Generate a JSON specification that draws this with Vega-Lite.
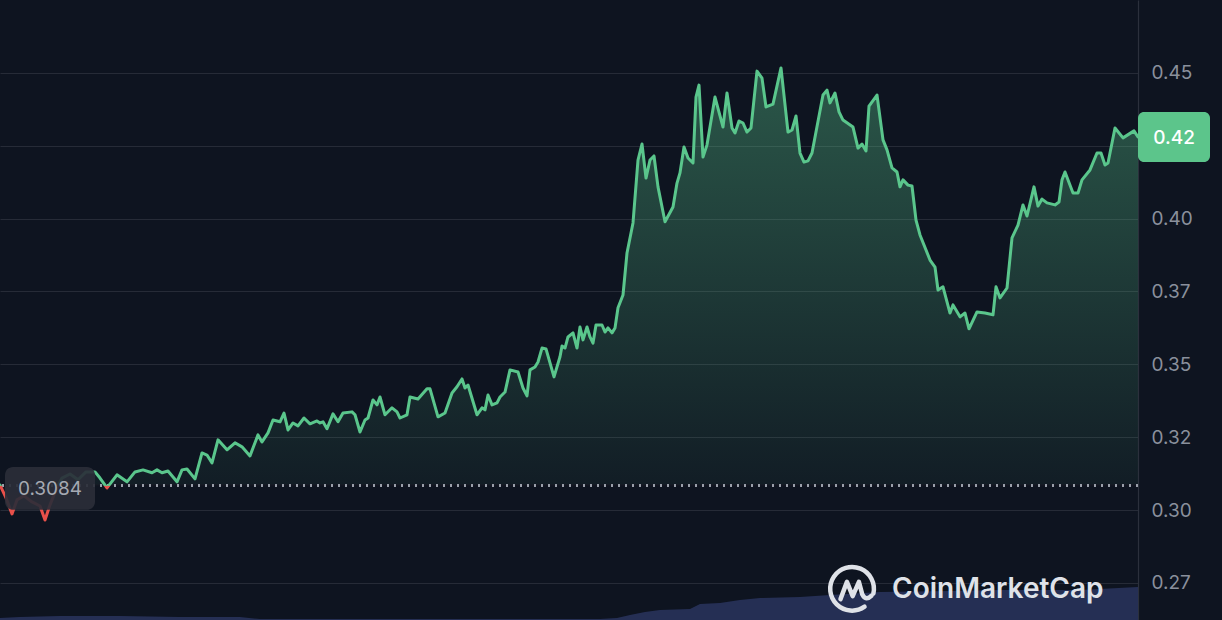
{
  "$schema": "https://vega.github.io/schema/vega-lite/v6.json",
  "width": 1138,
  "height": 620,
  "autosize": {"type": "none"},
  "padding": {"left": 0, "top": 0, "right": 84, "bottom": 0},
  "background": "#0e1420",
  "config": {"view": {"stroke": null}, "font": "Inter"},
  "datasets": {
    "price": [
      {"t":0,"price":0.3086},{"t":6,"price":0.3042},{"t":12,"price":0.2987},{"t":17,"price":0.3035},{"t":24,"price":0.3049},{"t":32,"price":0.3028},{"t":40,"price":0.3014},{"t":45,"price":0.2966},{"t":50,"price":0.3018},{"t":56,"price":0.3069},{"t":62,"price":0.3110},{"t":70,"price":0.3124},{"t":78,"price":0.3104},{"t":86,"price":0.3131},{"t":95,"price":0.3131},
      {"t":100,"price":0.3110},{"t":107,"price":0.3076},{"t":117,"price":0.3121},{"t":127,"price":0.3097},{"t":135,"price":0.3131},{"t":143,"price":0.3138},{"t":152,"price":0.3128},{"t":157,"price":0.3138},{"t":162,"price":0.3128},{"t":168,"price":0.3134},{"t":177,"price":0.3097},{"t":182,"price":0.3138},{"t":187,"price":0.3141},{"t":195,"price":0.3107},
      {"t":202,"price":0.3196},{"t":207,"price":0.3189},{"t":212,"price":0.3162},{"t":218,"price":0.3241},{"t":227,"price":0.3207},{"t":235,"price":0.3231},{"t":242,"price":0.3217},{"t":250,"price":0.3186},{"t":258,"price":0.3258},{"t":262,"price":0.3234},{"t":268,"price":0.3265},{"t":273,"price":0.3309},{"t":280,"price":0.3303},{"t":284,"price":0.3333},{"t":288,"price":0.3275},{"t":293,"price":0.3299},{"t":298,"price":0.3289},
      {"t":304,"price":0.3316},{"t":310,"price":0.3296},{"t":317,"price":0.3306},{"t":320,"price":0.3299},{"t":323,"price":0.3303},{"t":327,"price":0.3279},{"t":333,"price":0.3330},{"t":338,"price":0.3303},{"t":343,"price":0.3333},{"t":352,"price":0.3337},{"t":355,"price":0.3327},{"t":360,"price":0.3268},{"t":365,"price":0.3309},{"t":368,"price":0.3316},{"t":373,"price":0.3378},{"t":377,"price":0.3361},{"t":380,"price":0.3388},{"t":385,"price":0.3327},{"t":392,"price":0.3351},{"t":397,"price":0.3337},
      {"t":400,"price":0.3316},{"t":407,"price":0.3327},{"t":410,"price":0.3388},{"t":418,"price":0.3381},{"t":427,"price":0.3416},{"t":430,"price":0.3416},{"t":438,"price":0.3320},{"t":445,"price":0.3333},{"t":452,"price":0.3402},{"t":457,"price":0.3423},{"t":462,"price":0.3450},{"t":465,"price":0.3419},{"t":468,"price":0.3429},{"t":477,"price":0.3327},{"t":482,"price":0.3351},{"t":485,"price":0.3344},{"t":488,"price":0.3395},{"t":492,"price":0.3361},{"t":497,"price":0.3368},
      {"t":500,"price":0.3388},{"t":505,"price":0.3405},{"t":510,"price":0.3481},{"t":518,"price":0.3474},{"t":523,"price":0.3419},{"t":527,"price":0.3392},{"t":530,"price":0.3481},{"t":535,"price":0.3491},{"t":538,"price":0.3508},{"t":542,"price":0.3556},{"t":546,"price":0.3553},{"t":554,"price":0.3457},{"t":560,"price":0.3526},{"t":562,"price":0.3563},{"t":565,"price":0.3556},{"t":568,"price":0.3594},{"t":573,"price":0.3608},{"t":577,"price":0.3556},{"t":580,"price":0.3628},{"t":583,"price":0.3584},{"t":587,"price":0.3628},{"t":590,"price":0.3594},{"t":593,"price":0.3573},{"t":596,"price":0.3635},
      {"t":602,"price":0.3635},{"t":605,"price":0.3611},{"t":608,"price":0.3625},{"t":612,"price":0.3608},{"t":615,"price":0.3625},{"t":618,"price":0.3694},{"t":623,"price":0.3738},{"t":627,"price":0.3882},{"t":633,"price":0.3985},{"t":638,"price":0.4201},{"t":642,"price":0.4256},{"t":646,"price":0.4139},{"t":650,"price":0.4201},{"t":654,"price":0.4215},{"t":658,"price":0.4109},{"t":665,"price":0.3989},{"t":673,"price":0.4040},{"t":677,"price":0.4122},{"t":680,"price":0.4157},{"t":684,"price":0.4246},{"t":688,"price":0.4208},{"t":693,"price":0.4191},{"t":696,"price":0.4417},{"t":699,"price":0.4458},
      {"t":703,"price":0.4211},{"t":707,"price":0.4253},{"t":715,"price":0.4417},{"t":723,"price":0.4314},{"t":727,"price":0.4431},{"t":732,"price":0.4311},{"t":735,"price":0.4294},{"t":739,"price":0.4335},{"t":743,"price":0.4328},{"t":747,"price":0.4297},{"t":751,"price":0.4311},{"t":757,"price":0.4506},{"t":762,"price":0.4482},{"t":766,"price":0.4383},{"t":773,"price":0.4393},{"t":781,"price":0.4517},{"t":788,"price":0.4297},{"t":792,"price":0.4304},{"t":796,"price":0.4352},
      {"t":800,"price":0.4225},{"t":804,"price":0.4194},{"t":808,"price":0.4198},{"t":812,"price":0.4225},{"t":823,"price":0.4424},{"t":827,"price":0.4441},{"t":830,"price":0.4397},{"t":835,"price":0.4431},{"t":839,"price":0.4366},{"t":843,"price":0.4338},{"t":853,"price":0.4314},{"t":858,"price":0.4242},{"t":862,"price":0.4256},{"t":866,"price":0.4232},{"t":869,"price":0.4386},{"t":877,"price":0.4424},{"t":883,"price":0.4270},{"t":887,"price":0.4236},{"t":892,"price":0.4174},{"t":897,"price":0.4160},
      {"t":900,"price":0.4109},{"t":903,"price":0.4133},{"t":908,"price":0.4115},{"t":912,"price":0.4112},{"t":916,"price":0.3995},{"t":920,"price":0.3944},{"t":930,"price":0.3858},{"t":935,"price":0.3834},{"t":938,"price":0.3755},{"t":943,"price":0.3766},{"t":950,"price":0.3676},{"t":953,"price":0.3704},{"t":960,"price":0.3663},{"t":965,"price":0.3676},{"t":969,"price":0.3622},{"t":977,"price":0.3680},{"t":985,"price":0.3676},{"t":993,"price":0.3670},{"t":996,"price":0.3766},
      {"t":1000,"price":0.3728},{"t":1007,"price":0.3762},{"t":1012,"price":0.3934},{"t":1018,"price":0.3978},{"t":1023,"price":0.4047},{"t":1027,"price":0.4009},{"t":1034,"price":0.4109},{"t":1038,"price":0.4043},{"t":1042,"price":0.4067},{"t":1047,"price":0.4054},{"t":1055,"price":0.4047},{"t":1059,"price":0.4057},{"t":1062,"price":0.4133},{"t":1065,"price":0.4160},{"t":1073,"price":0.4088},{"t":1078,"price":0.4088},{"t":1082,"price":0.4133},{"t":1090,"price":0.4167},{"t":1097,"price":0.4225},
      {"t":1101,"price":0.4225},{"t":1105,"price":0.4184},{"t":1108,"price":0.4191},{"t":1115,"price":0.4311},{"t":1123,"price":0.4277},{"t":1134,"price":0.4301},{"t":1138,"price":0.4280}
    ],
    "volume": [
      {"t":0,"vol":1.3},{"t":20,"vol":1.9},{"t":60,"vol":2.6},{"t":120,"vol":2.6},{"t":180,"vol":1.9},{"t":240,"vol":1.9},{"t":260,"vol":0.6},{"t":600,"vol":0.6},{"t":617,"vol":1.3},{"t":630,"vol":3.2},{"t":645,"vol":5.2},{"t":660,"vol":6.5},{"t":690,"vol":7.1},{"t":700,"vol":10.3},{"t":720,"vol":11.0},{"t":740,"vol":12.9},{"t":760,"vol":14.2},{"t":800,"vol":14.8},{"t":830,"vol":16.1},{"t":880,"vol":18.1},{"t":950,"vol":18.7},{"t":1000,"vol":19.4},{"t":1080,"vol":19.4},{"t":1138,"vol":21.3}
    ]
  },
  "layer": [
    {
      "data": {"name": "volume"},
      "mark": {"type": "area", "color": "#29345e", "opacity": 0.85},
      "encoding": {
        "x": {"field": "t", "type": "quantitative", "scale": {"domain": [0, 1138], "nice": false, "zero": false}, "axis": null},
        "y": {"field": "vol", "type": "quantitative", "scale": {"domain": [0, 400], "nice": false}, "axis": null}
      }
    },
    {
      "data": {"name": "price"},
      "layer": [
        {
          "mark": {
            "type": "area",
            "color": {"gradient": "linear", "x1": 0, "y1": 0, "x2": 0, "y2": 1,
              "stops": [
                {"offset": 0, "color": "rgba(90,198,140,0.38)"},
                {"offset": 0.92, "color": "rgba(90,198,140,0.05)"},
                {"offset": 0.924, "color": "rgba(232,80,74,0.04)"},
                {"offset": 1, "color": "rgba(232,80,74,0.08)"}
              ]}
          },
          "encoding": {
            "x": {"field": "t", "type": "quantitative", "scale": {"domain": [0, 1138], "nice": false, "zero": false}, "axis": null},
            "y": {"field": "price", "type": "quantitative",
              "scale": {"domain": [0.2623, 0.475], "nice": false, "zero": false},
              "axis": {"orient": "right", "title": null, "values": [0.275, 0.3, 0.325, 0.35, 0.375, 0.4, 0.425, 0.45],
                "labelExpr": "datum.value > 0.42 && datum.value < 0.43 ? '' : format(floor(datum.value*100+0.000001)/100, '.2f')",
                "grid": true, "gridColor": "#262b37", "gridWidth": 1.2,
                "domain": true, "domainColor": "#2b303c", "domainWidth": 1.2,
                "ticks": false, "labelPadding": 13, "labelFontSize": 19, "labelColor": "#8a909c", "labelFont": "Inter"}},
            "y2": {"datum": 0.3084}
          }
        },
        {
          "mark": {"type": "rule", "color": "#9ca1ab", "strokeDash": [2, 5], "strokeWidth": 1.6},
          "encoding": {"y": {"datum": 0.3084}}
        },
        {
          "mark": {
            "type": "line", "strokeWidth": 3, "strokeJoin": "round", "strokeCap": "round",
            "stroke": {"gradient": "linear", "x1": 0, "y1": 0, "x2": 0, "y2": 1,
              "stops": [
                {"offset": 0, "color": "#5ac68c"},
                {"offset": 0.9235, "color": "#5ac68c"},
                {"offset": 0.9245, "color": "#e8504a"},
                {"offset": 1, "color": "#e8504a"}
              ]}
          },
          "encoding": {
            "x": {"field": "t", "type": "quantitative"},
            "y": {"field": "price", "type": "quantitative"}
          }
        },
        {
          "data": {"values": [{"label": "0.3084"}]},
          "mark": {"type": "rect", "color": "#2a2e38", "opacity": 0.92, "cornerRadius": 8},
          "encoding": {
            "x": {"datum": 5}, "x2": {"datum": 95},
            "y": {"datum": 0.3148}, "y2": {"datum": 0.3001}
          }
        },
        {
          "data": {"values": [{"label": "0.3084"}]},
          "mark": {"type": "text", "color": "#a5a9b2", "fontSize": 19, "font": "Inter", "align": "center", "baseline": "middle"},
          "encoding": {
            "x": {"datum": 50}, "y": {"datum": 0.3073},
            "text": {"field": "label"}
          }
        },
        {
          "data": {"values": [{"label": "0.42"}]},
          "mark": {"type": "rect", "color": "#5cc58b", "cornerRadius": 6},
          "encoding": {
            "x": {"datum": 1138}, "x2": {"datum": 1210},
            "y": {"datum": 0.4366}, "y2": {"datum": 0.4194}
          }
        },
        {
          "data": {"values": [{"label": "0.42"}]},
          "mark": {"type": "text", "color": "#ffffff", "fontSize": 19, "fontWeight": 500, "font": "Inter", "align": "center", "baseline": "middle"},
          "encoding": {
            "x": {"datum": 1174}, "y": {"datum": 0.4277},
            "text": {"field": "label"}
          }
        },
        {
          "data": {"values": [{"label": "logo"}]},
          "mark": {"type": "point", "shape": "M0.93,0.2 A0.95,0.95 0 1 0 0.545,0.778 M-0.5,0.45 L-0.22,-0.3 L0.03,0.32 L0.3,-0.3 L0.45,0.25 Q0.6,0.55 0.85,0.3", "size": 2116, "filled": false, "stroke": "#dfe2e8", "strokeWidth": 4.5, "opacity": 1, "strokeCap": "round", "strokeJoin": "round"},
          "encoding": {"x": {"datum": 852}, "y": {"datum": 0.2730}}
        },
        {
          "data": {"values": [{"label": "CoinMarketCap"}]},
          "mark": {"type": "text", "color": "#dfe2e8", "fontSize": 28, "fontWeight": 600, "font": "Inter", "align": "left", "baseline": "alphabetic"},
          "encoding": {
            "x": {"datum": 892}, "y": {"datum": 0.2699},
            "text": {"field": "label"}
          }
        }
      ]
    }
  ],
  "resolve": {"scale": {"y": "independent"}}
}
